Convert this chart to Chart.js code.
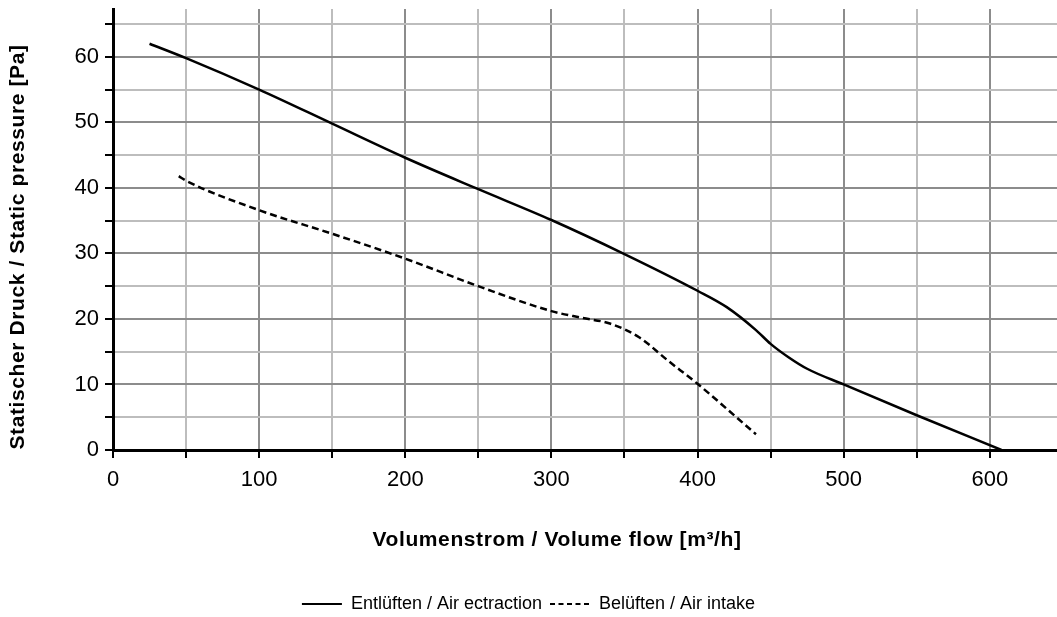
<!DOCTYPE html>
<html>
<head>
<meta charset="utf-8">
<script src="https://cdn.jsdelivr.net/npm/chart.js@4.4.1/dist/chart.umd.min.js"></script>
<style>
  html, body { margin: 0; padding: 0; background: #fff; overflow: hidden; }
  #wrap { width: 1057px; height: 617px; }
</style>
</head>
<body>
<div id="wrap"><canvas id="chart" width="1057" height="617"></canvas></div>
<script>
// Kennlinien
const extractionFlow = [25, 50, 100, 150, 200, 250, 300, 350, 400, 420, 440, 450, 462, 475, 500, 550, 608];
const extractionPressure = [62, 59.8, 55, 49.8, 44.6, 39.8, 35.1, 29.9, 24.3, 21.8, 18.3, 16.2, 14.2, 12.4, 10, 5.3, 0];

const intakeFlow = [45, 50, 100, 150, 200, 250, 300, 320, 340, 360, 380, 400, 440];
const intakePressure = [41.8, 41.1, 36.6, 33, 29.2, 25, 21.2, 20.2, 19.3, 17.2, 13.6, 10.1, 2.4];

const seriesLabels = ['Entlüften / Air ectraction', 'Belüften / Air intake'];
const xTitle = 'Volumenstrom / Volume flow [m³/h]';
const yTitle = 'Statischer Druck / Static pressure [Pa]';

const FONT = '"Liberation Sans", Arial, sans-serif';
const toPoints = (xs, ys) => xs.map((x, i) => ({ x: x, y: ys[i] }));

// Hauptlinien dunkler als Zwischenlinien
const gridColor = (major) => (ctx) => (ctx.tick && ctx.tick.value % major === 0) ? '#8c8c8c' : '#bdbdbd';

// Achsentitel selbst zeichnen (nicht auf die Plotfläche zentriert)
const axisTitles = {
    id: 'axisTitles',
    afterDraw(chart) {
        const c = chart.ctx;
        c.save();
        c.fillStyle = '#000';
        c.font = 'bold 21px ' + FONT;
        c.letterSpacing = '0.6px';
        c.textAlign = 'center';
        c.textBaseline = 'middle';
        c.fillText(xTitle, 557, 540);
        c.translate(18, 247);
        c.rotate(-Math.PI / 2);
        c.fillText(yTitle, 0, 0);
        c.restore();
    }
};

const ctx = document.getElementById('chart').getContext('2d');
new Chart(ctx, {
    type: 'line',
    data: {
        datasets: [{
            label: seriesLabels[0],
            data: toPoints(extractionFlow, extractionPressure),
            borderColor: '#000',
            backgroundColor: '#000',
            borderWidth: 2.5,
            pointRadius: 0,
            cubicInterpolationMode: 'monotone'
        }, {
            label: seriesLabels[1],
            data: toPoints(intakeFlow, intakePressure),
            borderColor: '#000',
            backgroundColor: '#000',
            borderWidth: 2.5,
            borderDash: [7, 4],
            pointRadius: 0,
            cubicInterpolationMode: 'monotone'
        }]
    },
    options: {
        responsive: false,
        animation: false,
        layout: { padding: { top: 9, right: 0, left: 0, bottom: -6 } },
        plugins: {
            title: { display: false },
            tooltip: { enabled: false },
            legend: {
                position: 'bottom',
                labels: {
                    usePointStyle: true,
                    pointStyle: 'line',
                    pointStyleWidth: 40,
                    boxHeight: 2,
                    padding: 8,
                    color: '#000',
                    font: { family: FONT, size: 18 },
                    // Strichmuster der Linie auch in der Legende zeigen
                    generateLabels(chart) {
                        const items = Chart.defaults.plugins.legend.labels.generateLabels(chart);
                        items.forEach((it, i) => {
                            const ds = chart.data.datasets[it.datasetIndex ?? i];
                            it.lineDash = ds.borderDash ? [5, 3.5] : [];
                            it.lineWidth = 2;
                            it.strokeStyle = '#000';
                        });
                        return items;
                    }
                }
            }
        },
        scales: {
            x: {
                type: 'linear',
                min: 0,
                max: 646,
                border: { color: '#000', width: 3 },
                grid: {
                    color: gridColor(100),
                    lineWidth: 2,
                    tickColor: '#000',
                    tickLength: 8,
                    tickWidth: 2
                },
                ticks: {
                    stepSize: 50,
                    includeBounds: false,
                    maxRotation: 0,
                    autoSkip: false,
                    padding: 9,
                    color: '#000',
                    font: { family: FONT, size: 22 },
                    callback: (v) => v % 100 === 0 ? String(v) : ''
                },
                afterFit(scale) {
                    scale.height = 137;
                    scale.paddingLeft = 0;
                    scale.paddingRight = 0;
                }
            },
            y: {
                type: 'linear',
                min: 0,
                max: 67.3,
                border: { color: '#000', width: 3 },
                grid: {
                    color: gridColor(10),
                    lineWidth: 2,
                    tickColor: '#000',
                    tickLength: 8,
                    tickWidth: 2
                },
                ticks: {
                    stepSize: 5,
                    includeBounds: false,
                    autoSkip: false,
                    padding: 6,
                    color: '#000',
                    font: { family: FONT, size: 22 },
                    callback: (v) => v % 10 === 0 ? String(v) : ''
                },
                afterFit(scale) {
                    scale.width = 113;
                    scale.paddingTop = 0;
                    scale.paddingBottom = 0;
                }
            }
        }
    },
    plugins: [axisTitles]
});
</script>
</body>
</html>
